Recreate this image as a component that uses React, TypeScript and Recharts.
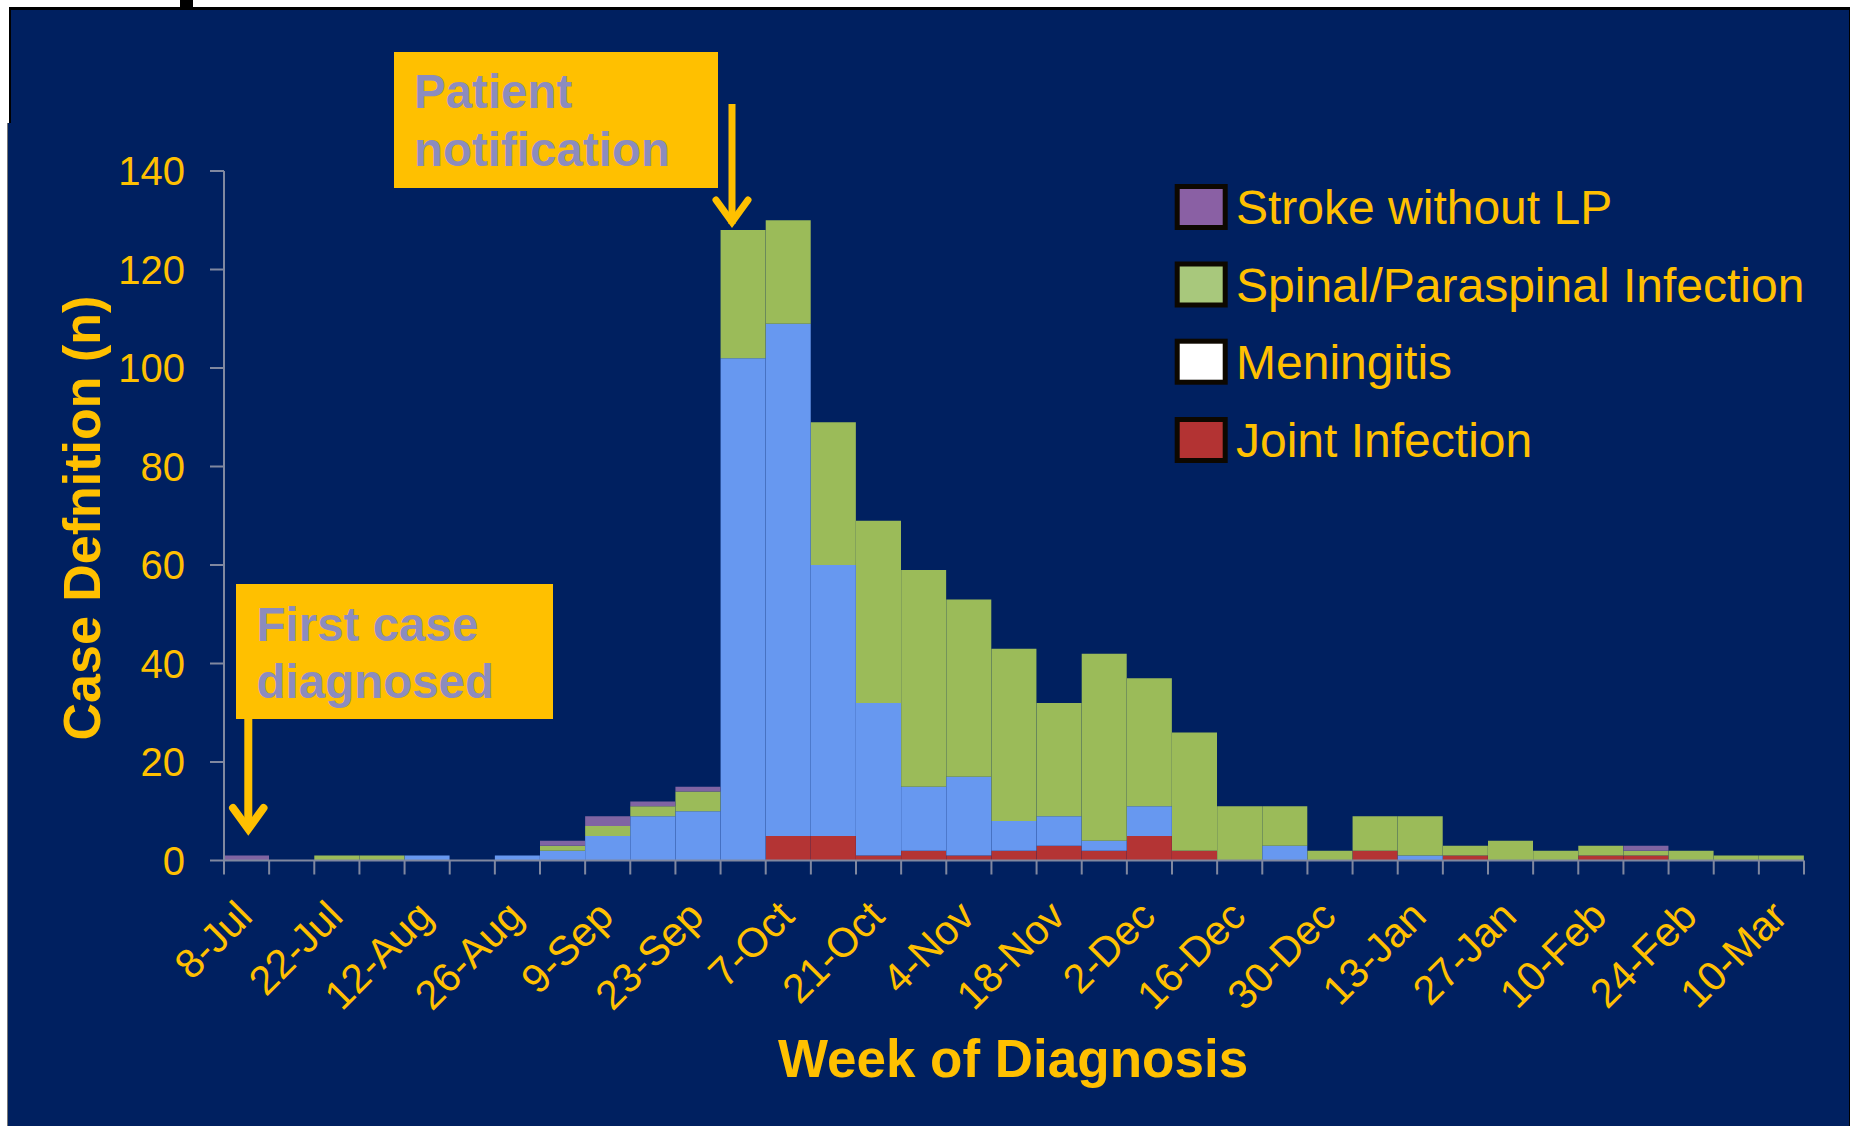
import React from 'react';
import { BarChart, Bar, XAxis, YAxis } from 'recharts';

const weeks = ['8-Jul','15-Jul','22-Jul','29-Jul','12-Aug','19-Aug','26-Aug','2-Sep','9-Sep','16-Sep','23-Sep','30-Sep','7-Oct','14-Oct','21-Oct','28-Oct','4-Nov','11-Nov','18-Nov','25-Nov','2-Dec','9-Dec','16-Dec','23-Dec','30-Dec','6-Jan','13-Jan','20-Jan','27-Jan','3-Feb','10-Feb','17-Feb','24-Feb','3-Mar','10-Mar'];
const jointInfection = [0,0,0,0,0,0,0,0,0,0,0,0,5,5,1,2,1,2,3,2,5,2,0,0,0,2,0,1,0,0,1,1,0,0,0];
const meningitis =     [0,0,0,0,1,0,1,2,5,9,10,102,104,55,31,13,16,6,6,2,6,0,0,3,0,0,1,0,0,0,0,0,0,0,0];
const spinalParaspinal=[0,0,1,1,0,0,0,1,2,2,4,26,21,29,37,44,36,35,23,38,26,24,11,8,2,7,8,2,4,2,2,1,2,1,1];
const strokeNoLP =     [1,0,0,0,0,0,0,1,2,1,1,0,0,0,0,0,0,0,0,0,0,0,0,0,0,0,0,0,0,0,0,1,0,0,0];
const yTicks = [0,20,40,60,80,100,120,140];
const legendItems = [
  { label: 'Stroke without LP', color: '#8A60A4' },
  { label: 'Spinal/Paraspinal Infection', color: '#A8C87C' },
  { label: 'Meningitis', color: '#FFFFFF' },
  { label: 'Joint Infection', color: '#B33333' },
];

const W = 1852;
const H = 1126;
const FONT = '"Liberation Sans", Arial, Helvetica, sans-serif';
const YELLOW = '#FFC000';
const NAVY = '#002060';
const AXIS = '#8088A0';
const NOTE = '#8C8CBE';
const PLOT_LEFT = 224;
const PLOT_RIGHT = 1804;

const data = weeks.map((week, i) => ({
  week,
  joint: jointInfection[i],
  meningitis: meningitis[i],
  spinal: spinalParaspinal[i],
  stroke: strokeNoLP[i],
}));

const XTick = (props: any) => {
  const { x, y, payload, index } = props;
  const i = typeof index === 'number' ? index : payload.index;
  const half = payload && typeof payload.offset === 'number' && payload.offset > 0
    ? payload.offset
    : (PLOT_RIGHT - PLOT_LEFT) / weeks.length / 2;
  const ax = x + 8;
  const ay = y + 58;
  const last = i === weeks.length - 1;
  return (
    <g>
      <line x1={x - half} y1={y} x2={x - half} y2={y + 14} stroke={AXIS} strokeWidth={2} />
      {last && <line x1={x + half} y1={y} x2={x + half} y2={y + 14} stroke={AXIS} strokeWidth={2} />}
      {i % 2 === 0 && (
        <text x={ax} y={ay} transform={`rotate(-45, ${ax}, ${ay})`} textAnchor="end" fill={YELLOW} fontSize={41} fontFamily={FONT}>
          {payload.value}
        </text>
      )}
    </g>
  );
};

const legendCenters = [207, 284.5, 361.7, 440];

export default function App() {
  return (
    <div style={{ position: 'absolute', left: 0, top: 0, width: W, height: H, background: '#fff', overflow: 'hidden' }}>
      <div style={{ position: 'absolute', left: 9, top: 7, width: 1841, height: H - 7, background: '#000' }} />
      <div style={{ position: 'absolute', left: 11, top: 10, width: 1838, height: H - 10, background: NAVY }} />
      <div style={{ position: 'absolute', left: 7, top: 123, width: 6, height: H - 123, background: NAVY, boxSizing: 'border-box', borderLeft: '1px solid #777' }} />
      <div style={{ position: 'absolute', left: 180, top: 0, width: 13, height: 8, background: '#000' }} />
      <div style={{ position: 'absolute', left: 0, top: 0 }}>
        <BarChart
          width={W}
          height={H}
          data={data}
          margin={{ top: 171, right: W - PLOT_RIGHT, bottom: 145.5, left: 0 }}
          barCategoryGap={0}
          barGap={0}
        >
          <XAxis
            dataKey="week"
            height={120}
            interval={0}
            tickLine={false}
            axisLine={{ stroke: AXIS, strokeWidth: 2 }}
            tickSize={0}
            tickMargin={0}
            tick={<XTick />}
          />
          <YAxis
            type="number"
            domain={[0, 140]}
            ticks={yTicks}
            width={PLOT_LEFT}
            tickSize={14}
            tickMargin={25}
            interval={0}
            axisLine={{ stroke: AXIS, strokeWidth: 2 }}
            tickLine={{ stroke: AXIS, strokeWidth: 2 }}
            tick={{ fill: YELLOW, fontSize: 40, fontFamily: FONT }}
          />
          <Bar dataKey="joint" stackId="a" fill="#B43434" stroke="#0a0a0a" strokeWidth={2} isAnimationActive={false} />
          <Bar dataKey="meningitis" stackId="a" fill="#6798F0" stroke="#0a0a0a" strokeWidth={2} isAnimationActive={false} />
          <Bar dataKey="spinal" stackId="a" fill="#9BBB59" stroke="#0a0a0a" strokeWidth={2} isAnimationActive={false} />
          <Bar dataKey="stroke" stackId="a" fill="#8064A2" stroke="#0a0a0a" strokeWidth={2} isAnimationActive={false} />
        </BarChart>
      </div>
      <svg width={W} height={H} style={{ position: 'absolute', left: 0, top: 0, pointerEvents: 'none' }}>
        <text transform="translate(100,518) rotate(-90)" textAnchor="middle" fill={YELLOW} fontSize={52} fontWeight="bold" fontFamily={FONT}>
          Case Defnition (n)
        </text>
        <text x={1013} y={1077} textAnchor="middle" fill={YELLOW} fontSize={53} fontWeight="bold" fontFamily={FONT}>
          Week of Diagnosis
        </text>

        <rect x={394} y={52} width={324} height={136} fill={YELLOW} />
        <text x={414} y={108} fill={NOTE} fontSize={47.5} fontWeight="bold" fontFamily={FONT}>Patient</text>
        <text x={414} y={166} fill={NOTE} fontSize={47.5} fontWeight="bold" fontFamily={FONT}>notification</text>
        <line x1={732} y1={104} x2={732} y2={224} stroke={YELLOW} strokeWidth={7} />
        <polyline points="716,200 732,222 748,200" fill="none" stroke={YELLOW} strokeWidth={7} strokeLinecap="round" strokeLinejoin="miter" />

        <rect x={236} y={584} width={317} height={135} fill={YELLOW} />
        <text x={256.5} y={640.5} fill={NOTE} fontSize={47.5} fontWeight="bold" fontFamily={FONT}>First case</text>
        <text x={256.5} y={698} fill={NOTE} fontSize={47.5} fontWeight="bold" fontFamily={FONT}>diagnosed</text>
        <line x1={248.3} y1={719} x2={248.3} y2={828} stroke={YELLOW} strokeWidth={8} />
        <polyline points="233,808 248.3,829 263.5,808" fill="none" stroke={YELLOW} strokeWidth={8} strokeLinecap="round" strokeLinejoin="miter" />

        {legendItems.map((it, i) => (
          <g key={it.label}>
            <rect x={1177.2} y={legendCenters[i] - 20.5} width={48} height={41} fill={it.color} stroke="#0d0800" strokeWidth={5} />
            <text x={1236} y={legendCenters[i] + 17} fill={YELLOW} fontSize={48} fontFamily={FONT}>{it.label}</text>
          </g>
        ))}
      </svg>
    </div>
  );
}
